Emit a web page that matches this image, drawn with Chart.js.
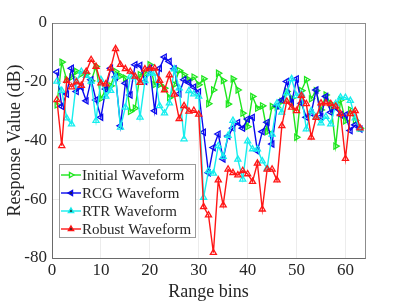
<!DOCTYPE html>
<html>
<head>
<meta charset="utf-8">
<script src="https://cdn.jsdelivr.net/npm/chart.js@4.4.0/dist/chart.umd.min.js"></script>
<style>
html,body{margin:0;padding:0;background:#fff;}
#wrap{width:403px;height:303px;position:relative;}
</style>
</head>
<body>
<div id="wrap"><canvas id="c" width="403" height="303"></canvas></div>
<script>
const rangeBins = Array.from({length: 63}, (_, i) => i + 1);
const seriesNames = ['Initial Waveform', 'RCG Waveform', 'RTR Waveform', 'Robust Waveform'];
const xTicks = [0, 10, 20, 30, 40, 50, 60];
const yTicks = [-80, -60, -40, -20, 0];

const initialValues = [-27.9,-13.3,-19.3,-18.4,-16.5,-17.3,-17.3,-19.7,-14.8,-25.7,-22.8,-21.4,-16.5,-18.0,-18.8,-30.1,-29.0,-17.6,-17.3,-14.2,-21.0,-21.0,-22.2,-25.4,-21.0,-16.2,-17.6,-19.3,-18.4,-21.0,-19.0,-27.5,-22.8,-17.1,-19.6,-27.6,-19.0,-22.8,-30.7,-35.3,-25.0,-29.0,-28.2,-37.0,-28.4,-28.7,-26.7,-23.3,-25.6,-38.9,-23.0,-19.3,-25.8,-23.0,-29.6,-24.5,-27.5,-41.9,-26.2,-33.3,-29.6,-33.2,-35.8];
const rcgValues = [-16.7,-28.4,-24.2,-15.4,-23.3,-21.8,-26.5,-19.3,-26.2,-32.1,-22.5,-15.4,-18.4,-35.0,-20.5,-24.5,-14.2,-14.4,-19.9,-15.4,-29.9,-15.4,-11.6,-13.1,-15.6,-24.1,-19.3,-20.3,-21.8,-23.5,-37.2,-51.0,-42.4,-37.8,-46.3,-38.5,-35.8,-33.9,-35.8,-32.7,-32.1,-43.6,-37.0,-33.8,-41.2,-28.2,-26.2,-19.9,-27.3,-19.0,-27.3,-32.1,-30.7,-22.8,-31.9,-25.0,-30.4,-28.8,-31.3,-31.3,-36.6,-34.7,-36.1];
const rtrValues = [-19.9,-23.0,-32.4,-34.4,-19.9,-16.5,-17.9,-19.9,-33.2,-19.3,-25.0,-23.0,-18.2,-35.5,-28.7,-18.2,-18.4,-32.1,-19.7,-17.1,-17.1,-28.2,-30.7,-27.3,-15.7,-22.2,-39.5,-23.1,-24.2,-25.0,-59.4,-50.3,-51.2,-41.8,-45.5,-38.3,-33.2,-46.4,-53.2,-40.2,-42.9,-42.9,-47.0,-49.5,-37.9,-27.3,-30.4,-23.9,-19.0,-24.8,-24.2,-36.1,-29.9,-31.9,-34.1,-31.9,-34.4,-27.5,-25.3,-25.4,-26.4,-32.4,-36.1];
const robustValues = [-26.2,-41.8,-19.6,-21.8,-20.1,-21.3,-16.5,-12.5,-14.8,-20.5,-20.8,-15.4,-8.8,-14.2,-15.6,-16.5,-18.2,-20.3,-15.7,-15.4,-15.4,-19.6,-22.8,-17.7,-24.3,-32.6,-28.2,-30.1,-29.8,-31.1,-62.6,-65.4,-78.2,-53.5,-62.0,-49.8,-51.0,-51.8,-50.3,-51.4,-54.0,-47.8,-63.4,-49.8,-49.8,-53.5,-35.0,-26.7,-28.7,-29.9,-24.7,-27.5,-38.9,-32.2,-27.3,-27.3,-27.5,-28.4,-30.9,-46.2,-30.9,-29.9,-35.8];

const seriesValues = [initialValues, rcgValues, rtrValues, robustValues];
const colors = ['#1ee61e', '#0a0aee', '#16eeee', '#ff1616'];
const rotations = [90, -90, 0, 0];
const orders = [4, 3, 2, 1];

const FONT = "'Liberation Serif', 'Times New Roman', serif";
const TXT = '#262626';

const datasets = seriesNames.map((name, k) => ({
  label: name,
  data: rangeBins.map((x, i) => ({x: x, y: seriesValues[k][i]})),
  borderColor: colors[k],
  backgroundColor: 'rgba(255,255,255,0)',
  borderWidth: 1.4,
  pointStyle: 'triangle',
  pointRotation: rotations[k],
  pointRadius: 3.5,
  pointBorderWidth: 1.3,
  pointBorderColor: colors[k],
  pointBackgroundColor: 'rgba(255,255,255,0)',
  tension: 0,
  order: orders[k]
}));

const framePlugin = {
  id: 'frame',
  afterDraw(chart) {
    const ctx = chart.ctx, a = chart.chartArea;
    ctx.save();
    ctx.strokeStyle = '#8c8c8c';
    ctx.lineWidth = 1;
    ctx.strokeRect(Math.round(a.left) + 0.5, Math.round(a.top) + 0.5, Math.round(a.right - a.left), Math.round(a.bottom - a.top));
    ctx.strokeStyle = '#6a6a6a';
    ctx.beginPath();
    ctx.moveTo(Math.round(a.left) + 0.5, Math.round(a.top));
    ctx.lineTo(Math.round(a.left) + 0.5, Math.round(a.bottom) + 0.5);
    ctx.lineTo(Math.round(a.right) + 0.5, Math.round(a.bottom) + 0.5);
    ctx.stroke();
    // legend
    const lx = 59, ly = 164, lw = 136, lh = 73;
    ctx.fillStyle = '#fff';
    ctx.fillRect(lx, ly, lw, lh);
    ctx.strokeStyle = '#9a9a9a';
    ctx.strokeRect(lx + 0.5, ly + 0.5, lw, lh);
    ctx.font = '15px ' + FONT;
    ctx.textBaseline = 'middle';
    ctx.textAlign = 'left';
    chart.data.datasets.forEach((ds, k) => {
      const cy = ly + 11 + k * 18;
      ctx.strokeStyle = ds.borderColor;
      ctx.lineWidth = 1.4;
      ctx.beginPath();
      ctx.moveTo(lx + 2, cy);
      ctx.lineTo(lx + 22, cy);
      ctx.stroke();
      Chart.helpers.drawPoint(ctx, {pointStyle: 'triangle', rotation: ds.pointRotation, radius: 3, borderWidth: 1.3}, lx + 12, cy);
      ctx.fillStyle = TXT;
      ctx.fillText(ds.label, lx + 23, cy + 1);
    });
    ctx.restore();
  }
};

new Chart(document.getElementById('c'), {
  type: 'line',
  data: {datasets: datasets},
  plugins: [framePlugin],
  options: {
    responsive: false,
    animation: false,
    devicePixelRatio: 1,
    layout: {padding: {left: 0, right: 38, top: 23, bottom: 0}},
    plugins: {legend: {display: false}, tooltip: {enabled: false}},
    scales: {
      x: {
        type: 'linear', min: 0, max: 64,
        afterBuildTicks: s => { s.ticks = xTicks.map(v => ({value: v})); },
        afterFit: s => { s.height = 45; },
        grid: {color: '#ececec', drawTicks: false},
        border: {display: false},
        ticks: {font: {family: FONT, size: 17}, color: TXT, padding: 2, maxRotation: 0},
        title: {display: true, text: 'Range bins', font: {family: FONT, size: 18}, color: TXT, padding: {top: 0, bottom: 0}}
      },
      y: {
        type: 'linear', min: -80, max: 0,
        afterBuildTicks: s => { s.ticks = yTicks.map(v => ({value: v})); },
        afterFit: s => { s.width = 52; },
        grid: {color: '#ececec', drawTicks: false},
        border: {display: false},
        ticks: {font: {family: FONT, size: 17}, color: TXT, padding: 5},
        title: {display: true, text: 'Response Value (dB)', font: {family: FONT, size: 18}, color: TXT, padding: {top: 4, bottom: 0}}
      }
    }
  }
});
</script>
</body>
</html>
